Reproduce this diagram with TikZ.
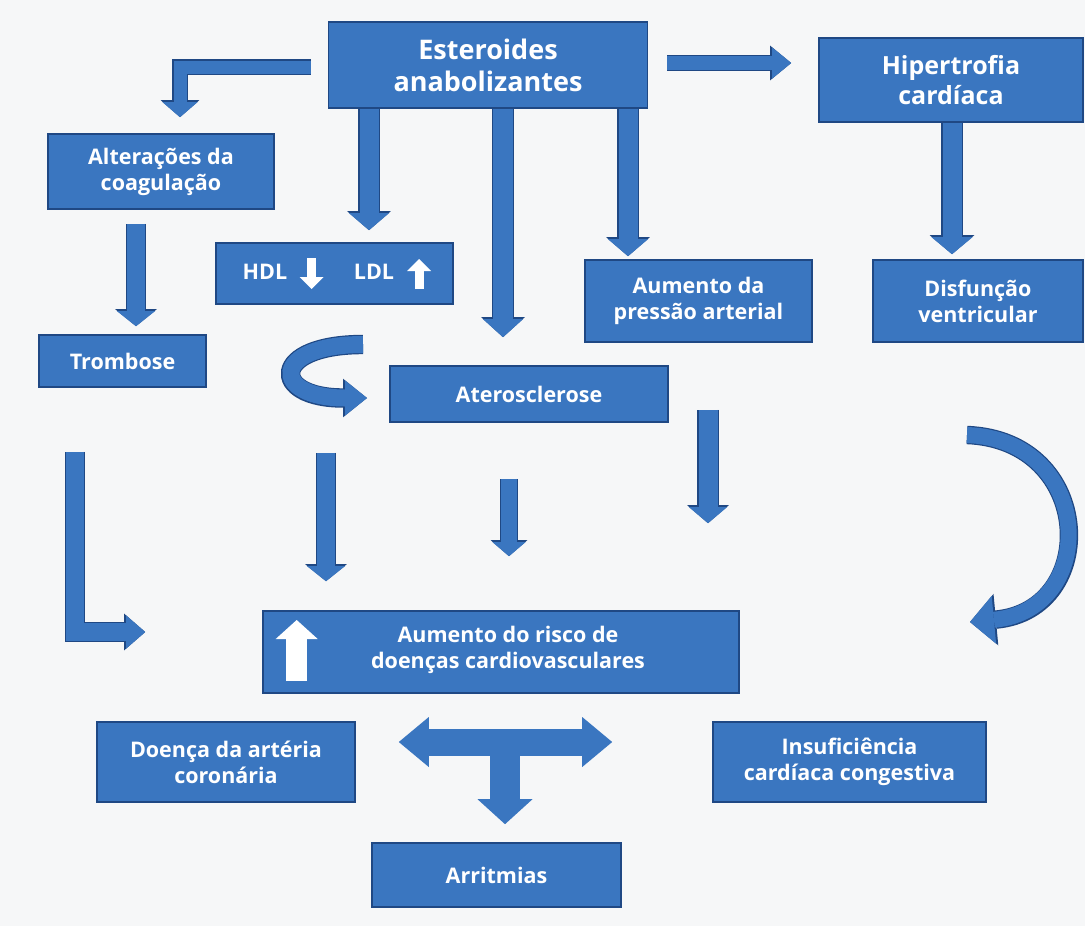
\documentclass[tikz,border=0pt]{standalone}
\usepackage{fontspec}
\setmainfont{Open Sans}
\usetikzlibrary{arrows.meta, positioning, calc}
\pgfdeclarelayer{background}
\pgfsetlayers{background,main}
\definecolor{boxfill}{RGB}{58,118,192}
\definecolor{boxedge}{RGB}{31,72,132}
\definecolor{paper}{RGB}{246,247,248}
\tikzset{
	box/.style={rectangle, draw=boxedge, fill=boxfill, line width=1.6pt, text=white, align=center, inner sep=0pt, font=\bfseries\fontsize{21.5}{26}\selectfont},
	box_big/.style={box, font=\bfseries\fontsize{27}{32}\selectfont},
	txt/.style={text=white, align=center, inner sep=0pt, font=\bfseries\fontsize{21.5}{26}\selectfont},
	arr_fill/.style n args={3}{draw=boxfill, line width=#1, -{Triangle[line width=0pt, width=#2, length=#3]}},
	arr_edge/.style n args={3}{draw=boxedge, line width=#1+2.4pt, -{Triangle[line width=0pt, width=#2+3.6pt, length=#3+2pt]}},
	arr/.style n args={3}{arr_fill={#1}{#2}{#3}, preaction={arr_edge={#1}{#2}{#3}}},
	arr_fill2/.style n args={3}{draw=boxfill, line width=#1, {Triangle[line width=0pt, width=#2, length=#3]}-{Triangle[line width=0pt, width=#2, length=#3]}},
	arr_edge2/.style n args={3}{draw=boxedge, line width=#1+2.4pt, {Triangle[line width=0pt, width=#2+3.6pt, length=#3+2pt]}-{Triangle[line width=0pt, width=#2+3.6pt, length=#3+2pt]}},
	arr_white/.style n args={3}{draw=white, line width=#1, -{Triangle[line width=0pt, width=#2, length=#3]}},
	phantom_node/.style={coordinate}
}

\begin{document}
\begin{tikzpicture}[x=1pt, y=-1pt]
	\useasboundingbox (0,0) rectangle (1085,926);
	\fill[paper] (0,0) rectangle (1085,926);
	% boxes
	\node[box_big, minimum width=319pt, minimum height=86pt] (ester) at (488,65) {Esteroides\\anabolizantes};
	\node[box, font=\bfseries\fontsize{25}{30}\selectfont, minimum width=264pt, minimum height=84pt] (hiper) at (951,80) {Hipertrofia\\cardíaca};
	\node[box, minimum width=226pt, minimum height=75pt] (alter) at (161,171.5) {Alterações da\\coagulação};
	\node[box, minimum width=237pt, minimum height=61pt] (hdl) at (334.5,273.5) {};
	\node[txt] (hdl_t) at (265,272) {HDL};
	\node[txt] (ldl_t) at (374,272) {LDL};
	\node[box, minimum width=227pt, minimum height=82pt] (press) at (698.5,301) {Aumento da\\pressão arterial};
	\node[box, minimum width=210pt, minimum height=82pt] (disf) at (978,301) {Disfunção\\ventricular};
	\node[box, minimum width=167pt, minimum height=52pt] (tromb) at (122.5,361) {Trombose};
	\node[box, minimum width=278pt, minimum height=56pt] (ateros) at (529,394) {Aterosclerose};
	\node[box, minimum width=476pt, minimum height=82pt] (risco) at (501,652) {};
	\node[txt] (risco_t) at (508,650) {Aumento do risco de\\doenças cardiovasculares};
	\node[box, minimum width=258pt, minimum height=80pt] (doenca) at (226,762) {Doença da artéria\\coronária};
	\node[box, minimum width=273pt, minimum height=80pt] (insuf) at (849.5,762) {Insuficiência\\cardíaca congestiva};
	\node[box, minimum width=249pt, minimum height=64pt] (arrit) at (496.5,875) {Arritmias};
	% white marks inside boxes
	\draw[arr_white={9pt}{24pt}{12pt}] ([shift={(-23,-15.5)}]hdl.center) -- ++(0,31);
	\draw[arr_white={9pt}{24pt}{12pt}] ([shift={(84.5,15.5)}]hdl.center) -- ++(0,-30);
	\draw[arr_white={21pt}{42pt}{19pt}] ([shift={(34.5,29)}]risco.west) -- ++(0,-61);
	% arrow columns
	\coordinate (k_top) at (0,63);
	\coordinate (k_alt) at (180,67);
	\coordinate (k_hdl) at (369,0);
	\coordinate (k_ath) at (503,0);
	\coordinate (k_prs) at (628,0);
	\coordinate (k_hyp) at (952,0);
	\coordinate (k_trm) at (136,0);
	\coordinate (k_lft) at (75,632);
	\coordinate (k_r1) at (326,0);
	\coordinate (k_r2) at (509,0);
	\coordinate (k_r3) at (708,0);
	\coordinate (k_cl) at (363,344.5);
	\coordinate (k_cr) at (367,398);
	\coordinate (k_bl) at (967,435);
	\coordinate (k_br) at (970,622);
	\coordinate (k_t) at (505,742);
	% connectors
	\draw[arr={13pt}{35pt}{15pt}, shorten <=17pt, shorten >=16pt] (ester.west |- k_alt) -| (alter.north -| k_alt);
	\draw[arr={14pt}{31pt}{19pt}, shorten <=19pt, shorten >=27pt] (ester.east |- k_top) -- (hiper.west |- k_top);
	\draw[arr={19pt}{40pt}{17pt}, shorten >=12pt] (ester.south -| k_hdl) -- (hdl.north -| k_hdl);
	\draw[arr={20pt}{40pt}{18pt}, shorten >=28pt] (ester.south -| k_ath) -- (ateros.north -| k_ath);
	\draw[arr={19pt}{40pt}{17pt}, shorten >=3pt] (ester.south -| k_prs) -- (press.north -| k_prs);
	\draw[arr={19pt}{41pt}{17pt}, shorten >=5pt] (hiper.south -| k_hyp) -- (disf.north -| k_hyp);
	\draw[arr={18pt}{38pt}{15pt}, shorten <=14pt, shorten >=8pt] (alter.south -| k_trm) -- (tromb.north -| k_trm);
	\draw[arr={18pt}{33pt}{19pt}, shorten <=64pt, shorten >=117pt] (tromb.south -| k_lft) |- (risco.west |- k_lft);
	\draw[arr={18pt}{38pt}{15pt}, shorten <=30pt, shorten >=29pt] (ateros.south -| k_r1) -- (risco.north -| k_r1);
	\draw[arr={16pt}{33pt}{14pt}, shorten <=56pt, shorten >=54pt] (ateros.south -| k_r2) -- (risco.north -| k_r2);
	\draw[arr={19pt}{38pt}{16pt}, shorten <=67pt, shorten >=87pt] (press.south -| k_r3) -- (risco.north -| k_r3);
	\draw[arr={17pt}{35pt}{22pt}] (k_cl) .. controls (270,344.5) and (270,398) .. (k_cr);
	\draw[arr={16pt}{48pt}{24pt}] (k_bl) .. controls (1095,440) and (1100,610) .. (k_br);
	\begin{pgfonlayer}{background}
		\draw[arr_edge2={27pt}{50pt}{30pt}, shorten <=43pt, shorten >=100pt] (doenca.east |- k_t) -- (insuf.west |- k_t);
		\draw[arr_edge={30pt}{55pt}{25pt}, shorten >=18pt] (k_t) -- (arrit.north -| k_t);
	\end{pgfonlayer}
	\draw[arr_fill2={27pt}{50pt}{30pt}, shorten <=43pt, shorten >=100pt] (doenca.east |- k_t) -- (insuf.west |- k_t);
	\draw[arr_fill={30pt}{55pt}{25pt}, shorten >=18pt] (k_t) -- (arrit.north -| k_t);
\end{tikzpicture}
\end{document}
